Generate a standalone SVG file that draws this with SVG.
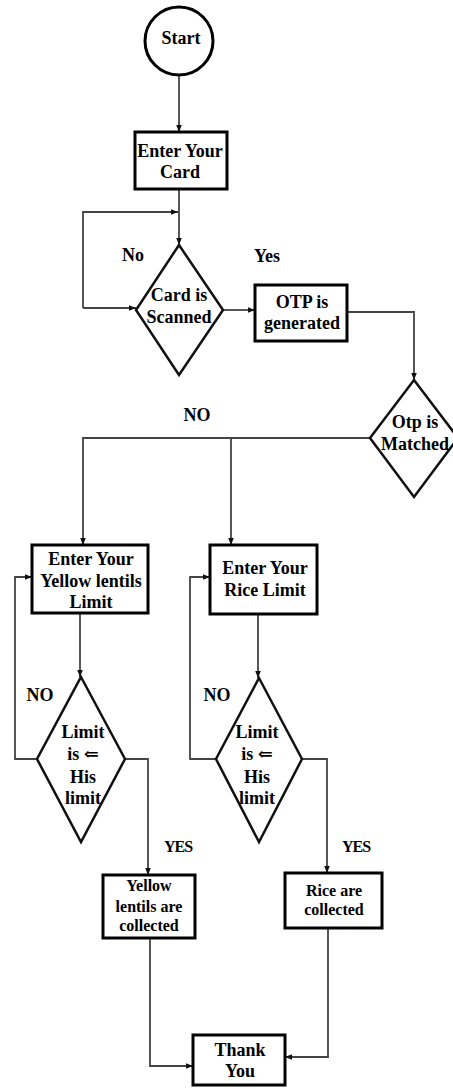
<svg xmlns="http://www.w3.org/2000/svg" width="453" height="1089" viewBox="0 0 453 1089">
<style>
.n{fill:#fff;stroke:#000;stroke-width:3}
.d{fill:#fff;stroke:#111;stroke-width:2.5}
.c{fill:none;stroke:#444;stroke-width:1.8}
text{font-family:"Liberation Serif","DejaVu Serif",serif;font-weight:bold;font-size:18px;fill:#000;text-anchor:middle}
.s{font-size:16px}
.y{font-size:16px;letter-spacing:-1px}
</style>
<defs>
<marker id="a" viewBox="0 0 10 10" refX="10" refY="5" markerWidth="7" markerHeight="7" markerUnits="userSpaceOnUse" orient="auto"><path d="M0,1 L10,5 L0,9 z" fill="#111"/></marker>
</defs>
<g id="connectors">
<path class="c" d="M179,75 V132" marker-end="url(#a)"/>
<path class="c" d="M179,189 V245" marker-end="url(#a)"/>
<path class="c" d="M83,308 V212 H178" stroke-width="2.5" marker-end="url(#a)"/>
<path class="c" d="M83,308 H136" stroke-width="2.5" marker-end="url(#a)"/>
<path class="c" d="M223,310 H255" marker-end="url(#a)"/>
<path class="c" d="M347,312 H414 V380" marker-end="url(#a)"/>
<path class="c" d="M370,438 H83 V545" marker-end="url(#a)"/>
<path class="c" d="M231,438 V545" marker-end="url(#a)"/>
<path class="c" d="M80,613 V677" marker-end="url(#a)"/>
<path class="c" d="M37,759 H15 V577 H32" marker-end="url(#a)"/>
<path class="c" d="M125,759 H148 V875" marker-end="url(#a)"/>
<path class="c" d="M258,614 V678" marker-end="url(#a)"/>
<path class="c" d="M216,759 H190 V577 H210" marker-end="url(#a)"/>
<path class="c" d="M302,759 H327 V873" marker-end="url(#a)"/>
<path class="c" d="M150,938 V1066 H193" marker-end="url(#a)"/>
<path class="c" d="M328,928 V1057 H285" marker-end="url(#a)"/>
</g>
<g id="start"><circle class="n" cx="179" cy="41" r="34" stroke-width="2.5"/><text x="181" y="44">Start</text></g>
<g id="enter-card"><rect class="n" x="135" y="132" width="92" height="57"/><text x="180" y="157">Enter Your</text><text x="180" y="178">Card</text></g>
<g id="card-scanned"><polygon class="d" points="179,245 223,310 179,375 136,310"/><text x="179" y="301">Card is</text><text x="179" y="323">Scanned</text></g>
<g id="label-no"><text x="133" y="261">No</text></g>
<g id="label-yes"><text x="267" y="262">Yes</text></g>
<g id="otp-generated"><rect class="n" x="255" y="285" width="92" height="56"/><text x="302" y="308">OTP is</text><text x="302" y="329">generated</text></g>
<g id="otp-matched"><polygon class="d" points="414,380 458,438 414,497 370,438"/><text x="415" y="428">Otp is</text><text x="415" y="450">Matched</text></g>
<g id="label-no-top"><text x="197" y="421">NO</text></g>
<g id="enter-yellow"><rect class="n" x="32" y="545" width="116" height="68"/><text x="91" y="565">Enter Your</text><text x="91" y="587">Yellow lentils</text><text x="91" y="608">Limit</text></g>
<g id="enter-rice"><rect class="n" x="210" y="545" width="107" height="69"/><text x="265" y="574">Enter Your</text><text x="265" y="596">Rice Limit</text></g>
<g id="yellow-limit"><polygon class="d" points="81,677 125,759 81,842 37,759"/><text x="83" y="738">Limit</text><text x="83" y="760">is ⇐</text><text x="83" y="783">His</text><text x="83" y="804">limit</text></g>
<g id="rice-limit"><polygon class="d" points="259,678 302,759 259,842 216,759"/><text x="257" y="738">Limit</text><text x="257" y="760">is ⇐</text><text x="257" y="783">His</text><text x="257" y="804">limit</text></g>
<g id="label-no-yellow"><text x="40" y="701">NO</text></g>
<g id="label-no-rice"><text x="217" y="701">NO</text></g>
<g id="label-yes-yellow"><text class="y" x="178" y="852">YES</text></g>
<g id="label-yes-rice"><text class="y" x="356" y="852">YES</text></g>
<g id="yellow-collected"><rect class="n" x="103" y="875" width="92" height="63"/><text class="s" x="149" y="891">Yellow</text><text class="s" x="149" y="912">lentils are</text><text class="s" x="149" y="931">collected</text></g>
<g id="rice-collected"><rect class="n" x="285" y="873" width="97" height="55"/><text class="s" x="334" y="896">Rice are</text><text class="s" x="334" y="915">collected</text></g>
<g id="thank-you"><rect class="n" x="193" y="1035" width="92" height="50"/><text x="240" y="1056">Thank</text><text x="240" y="1077">You</text></g>
</svg>
